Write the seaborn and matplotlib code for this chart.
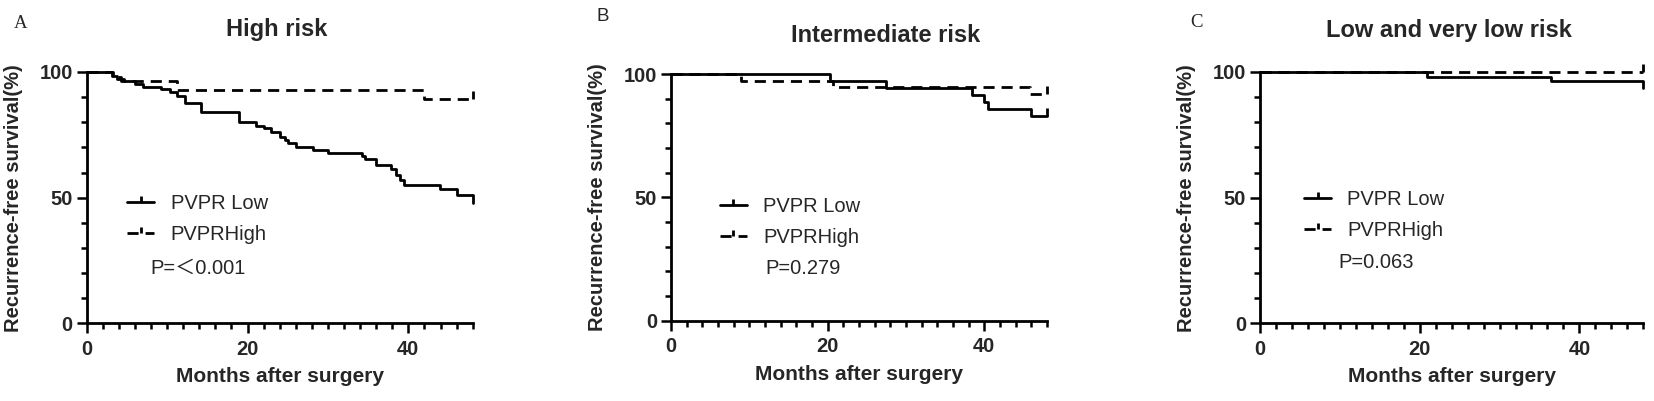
import matplotlib
matplotlib.use("Agg")
import matplotlib.pyplot as plt
import matplotlib.ticker as mticker
from matplotlib.lines import Line2D
import pandas as pd
import seaborn as sns

sns.set_style("white")
plt.rcParams['font.family'] = ['Liberation Sans', 'Noto Sans CJK SC', 'DejaVu Sans']
# Prism-style bold axes text; legend and p-values are set back to normal below
plt.rcParams['font.weight'] = 'bold'
plt.rcParams['xtick.labelsize'] = 14.5
plt.rcParams['ytick.labelsize'] = 14.5

# Step curves: event times (months) and survival (%) after each step
a_low_t = [0, 3.1, 3.8, 4.6, 6.0, 7.0, 9.2, 10.4, 11.2, 12.2, 14.2, 19.0, 21.0, 22.1, 22.9,
           24.0, 24.6, 25.0, 26.0, 28.1, 30.0, 34.2, 34.6, 36.0, 37.9, 38.5, 38.9, 39.4,
           43.9, 46.0, 48.0]
a_low_s = [100, 98.5, 97.4, 96.4, 95.2, 94.2, 93.1, 91.9, 90.4, 87.5, 84.0, 80.0, 78.6, 77.6, 76.2,
           74.3, 72.9, 71.6, 70.0, 69.0, 67.9, 66.6, 65.3, 63.0, 61.3, 59.0, 57.0, 55.0,
           53.6, 51.0, 48.0]
a_high_t = [0, 3.3, 4.3, 11.2, 42.0, 48.0]
a_high_s = [100, 98.2, 96.5, 92.8, 89.3, 89.3]

b_low_t = [0, 20.3, 27.5, 38.4, 39.9, 40.5, 46.0, 48.0]
b_low_s = [100, 97.3, 94.4, 91.5, 88.8, 85.8, 83.0, 83.0]
b_high_t = [0, 8.9, 20.7, 45.8, 48.0]
b_high_s = [100, 97.3, 94.6, 92.0, 92.0]

c_low_t = [0, 20.9, 36.5, 48.0]
c_low_s = [100, 98.1, 96.6, 93.8]
c_high_t = [0, 48.0]
c_high_s = [100, 100]

# censored marks at the end of follow-up
a_cens = {'PVPRHigh': (48.0, 89.3)}
b_cens = {'PVPR Low': (48.0, 83.0), 'PVPRHigh': (48.0, 92.0)}
c_cens = {'PVPRHigh': (48.0, 100.0)}

x_ticks = [0, 20, 40]
y_ticks = [0, 50, 100]
titles = ['High risk', 'Intermediate risk', 'Low and very low risk']
letters = ['A', 'B', 'C']
p_texts = ['P=\uff1c0.001', 'P=0.279', 'P=0.063']
groups = ['PVPR Low', 'PVPRHigh']


def make_df(low_t, low_s, high_t, high_s):
    low = pd.DataFrame({'months': low_t, 'surv': low_s, 'group': groups[0]})
    high = pd.DataFrame({'months': high_t, 'surv': high_s, 'group': groups[1]})
    return pd.concat([low, high], ignore_index=True)


panels = [make_df(a_low_t, a_low_s, a_high_t, a_high_s),
          make_df(b_low_t, b_low_s, b_high_t, b_high_s),
          make_df(c_low_t, c_low_s, c_high_t, c_high_s)]
censored = [a_cens, b_cens, c_cens]

fig = plt.figure(figsize=(16.54, 4.01), dpi=100)
ax_rects = [[0.0524, 0.1938, 0.2334, 0.6267],
            [0.4057, 0.2002, 0.2273, 0.6152],
            [0.7618, 0.1938, 0.2317, 0.6267]]
title_pos = [(0.1675, 0.927), (0.5355, 0.912), (0.876, 0.923)]
letter_pos = [(0.0127, 0.942), (0.3646, 0.958), (0.7231, 0.943)]
letter_font = ['Liberation Serif', 'Liberation Sans', 'Liberation Serif']
leg_anchor = [(0.105, 0.415), (0.13, 0.40), (0.115, 0.43)]
p_pos = [(0.165, 0.22), (0.252, 0.21), (0.205, 0.24)]
ylab_x = [-0.166, -0.171, -0.167]

lw = 2.0
dash = (4, 2.5)

for i, df in enumerate(panels):
    ax = fig.add_axes(ax_rects[i])
    sns.lineplot(data=df, x='months', y='surv', style='group', style_order=groups,
                 dashes={groups[0]: '', groups[1]: dash}, color='black', lw=lw,
                 drawstyle='steps-post', estimator=None, sort=False, legend=False,
                 ax=ax, clip_on=False)
    for g, (t, s) in censored[i].items():
        ax.plot([t], [s], marker=2, markersize=6, mew=lw, color='black', clip_on=False)

    ax.set_xlim(0, 48)
    ax.set_ylim(0, 100)
    ax.set_xticks(x_ticks)
    ax.set_yticks(y_ticks)
    ax.xaxis.set_minor_locator(mticker.MultipleLocator(2))
    ax.yaxis.set_minor_locator(mticker.MultipleLocator(10))
    for side in ['top', 'right']:
        ax.spines[side].set_visible(False)
    for side in ['left', 'bottom']:
        ax.spines[side].set_linewidth(2.0)
        ax.spines[side].set_color('black')
    ax.tick_params(which='major', direction='out', length=7, width=1.8, color='black',
                   pad=3, left=True, bottom=True)
    ax.tick_params(which='minor', direction='out', length=4, width=1.8, color='black',
                   left=True, bottom=True)
    ax.tick_params(axis='x', which='major', pad=5)

    ax.set_xlabel('Months after surgery', fontsize=15, fontweight='bold', labelpad=6)
    ax.set_ylabel('Recurrence-free survival(%)', fontsize=14.5, fontweight='bold')
    ax.yaxis.set_label_coords(ylab_x[i], 0.5)

    handles = [Line2D([], [], color='black', lw=lw, marker=2, markersize=4, mew=lw),
               Line2D([], [], color='black', lw=lw, ls=(0, dash), marker=2, markersize=4, mew=lw)]
    ax.legend(handles, groups, loc='center left', bbox_to_anchor=leg_anchor[i], frameon=False,
              prop={'size': 14.5, 'weight': 'normal'}, handlelength=1.35, handletextpad=0.8,
              labelspacing=0.6, borderpad=0, borderaxespad=0)
    ax.text(p_pos[i][0], p_pos[i][1], p_texts[i], transform=ax.transAxes, fontsize=14.5,
            fontweight='normal', va='center', ha='left')

    fig.text(title_pos[i][0], title_pos[i][1], titles[i], fontsize=17, fontweight='bold',
             ha='center', va='center')
    fig.text(letter_pos[i][0], letter_pos[i][1], letters[i], fontsize=13.5, fontweight='normal',
             family=letter_font[i], ha='center', va='center')

fig.savefig('out.png', dpi=100)
